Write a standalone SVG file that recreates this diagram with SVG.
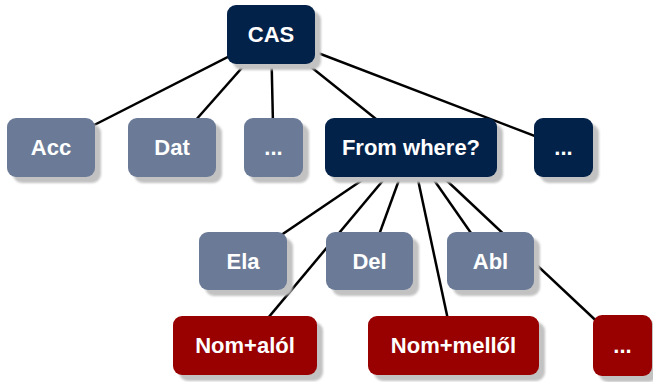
<svg xmlns="http://www.w3.org/2000/svg" width="653" height="382" viewBox="0 0 653 382">
<defs>
<filter id="sh" x="-20%" y="-20%" width="140%" height="140%"><feGaussianBlur stdDeviation="1.2"/></filter>
</defs>
<style>
.s{fill:#c2c2c2;filter:url(#sh)}
.n{fill:#03224a}
.g{fill:#6b7b97}
.r{fill:#990000}
text{font-family:"Liberation Sans",Arial,sans-serif;font-weight:bold;font-size:22px;fill:#fff;text-anchor:middle}
#edges line{stroke:#000;stroke-width:2.5}
</style>
<rect width="653" height="382" fill="#fff"/>
<g id="edges">
<line x1="271" y1="35" x2="51" y2="147"/>
<line x1="271" y1="35" x2="172" y2="147"/>
<line x1="271" y1="35" x2="273.5" y2="147"/>
<line x1="271" y1="35" x2="411" y2="147"/>
<line x1="271" y1="35" x2="563.5" y2="147"/>
<line x1="411" y1="147" x2="243" y2="261"/>
<line x1="411" y1="147" x2="369.5" y2="261"/>
<line x1="411" y1="147" x2="490.5" y2="261"/>
<line x1="411" y1="147" x2="245" y2="345.5"/>
<line x1="411" y1="147" x2="453.5" y2="345.5"/>
<line x1="411" y1="147" x2="622.5" y2="345.5"/>
</g>
<g id="cas"><rect class="s" x="233" y="11" width="88" height="59" rx="9"/><rect class="n" x="227" y="5" width="88" height="59" rx="9"/><text x="271" y="42">CAS</text></g>
<g id="acc"><rect class="s" x="13" y="124" width="88" height="59" rx="9"/><rect class="g" x="7" y="118" width="88" height="59" rx="9"/><text x="51" y="155">Acc</text></g>
<g id="dat"><rect class="s" x="134" y="124" width="88" height="59" rx="9"/><rect class="g" x="128" y="118" width="88" height="59" rx="9"/><text x="172" y="155">Dat</text></g>
<g id="dots1"><rect class="s" x="250" y="124" width="59" height="59" rx="9"/><rect class="g" x="244" y="118" width="59" height="59" rx="9"/><text x="273.5" y="155">...</text></g>
<g id="fromwhere"><rect class="s" x="331" y="124" width="172" height="59" rx="9"/><rect class="n" x="325" y="118" width="172" height="59" rx="9"/><text x="411" y="155">From where?</text></g>
<g id="dots2"><rect class="s" x="540" y="124" width="59" height="59" rx="9"/><rect class="n" x="534" y="118" width="59" height="59" rx="9"/><text x="563.5" y="155">...</text></g>
<g id="ela"><rect class="s" x="205" y="238" width="88" height="58" rx="9"/><rect class="g" x="199" y="232" width="88" height="58" rx="9"/><text x="243" y="269">Ela</text></g>
<g id="del"><rect class="s" x="332" y="238" width="87" height="58" rx="9"/><rect class="g" x="326" y="232" width="87" height="58" rx="9"/><text x="369.5" y="269">Del</text></g>
<g id="abl"><rect class="s" x="453" y="238" width="87" height="58" rx="9"/><rect class="g" x="447" y="232" width="87" height="58" rx="9"/><text x="490.5" y="269">Abl</text></g>
<g id="nomalol"><rect class="s" x="179" y="322" width="144" height="59" rx="9"/><rect class="r" x="173" y="316" width="144" height="59" rx="9"/><text x="245" y="353">Nom+alól</text></g>
<g id="nommellol"><rect class="s" x="374" y="322" width="171" height="59" rx="9"/><rect class="r" x="368" y="316" width="171" height="59" rx="9"/><text x="453.5" y="353">Nom+mellől</text></g>
<g id="dots3"><rect class="s" x="599" y="321" width="59" height="61" rx="9"/><rect class="r" x="593" y="315" width="59" height="61" rx="9"/><text x="622.5" y="353">...</text></g>
</svg>
